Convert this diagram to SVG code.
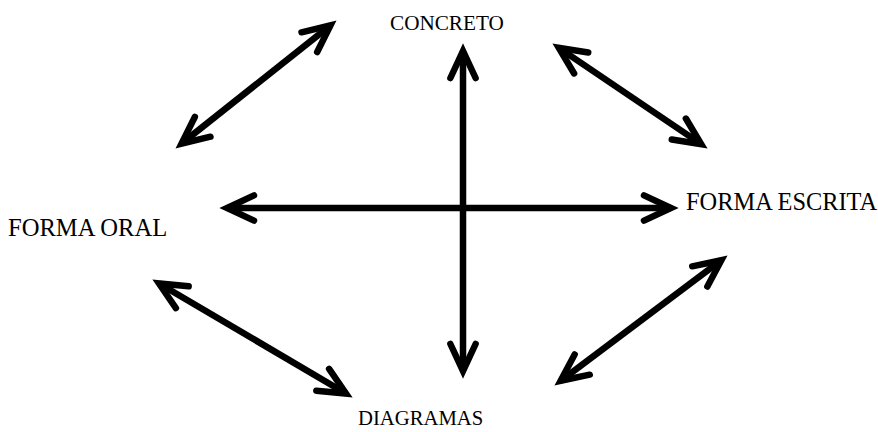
<svg xmlns="http://www.w3.org/2000/svg" width="878" height="432" viewBox="0 0 878 432">
<defs>
<style>
.lbl{font-family:"Liberation Serif","Times New Roman",serif;fill:#000}
.shaft{stroke:#000;stroke-width:6.5;fill:none;marker-start:url(#head);marker-end:url(#head)}
</style>
<marker id="head" markerUnits="userSpaceOnUse" viewBox="-40 -20 50 40" refX="0" refY="0" markerWidth="50" markerHeight="40" orient="auto-start-reverse" overflow="visible">
<path d="M-27,-12.6 L0,0 L-27,12.6" fill="none" stroke="#000" stroke-width="6.5" stroke-linecap="round" stroke-linejoin="miter" stroke-miterlimit="6"/>
</marker>
</defs>
<rect width="878" height="432" fill="#fff"/>
<g id="connectors">
<line class="shaft" x1="181.5" y1="143.6" x2="330.5" y2="25.4"/>
<line class="shaft" x1="463" y1="51" x2="463" y2="371"/>
<line class="shaft" x1="558.8" y1="47.9" x2="701.2" y2="144.1"/>
<line class="shaft" x1="227" y1="208" x2="671" y2="208"/>
<line class="shaft" x1="159" y1="283.5" x2="346" y2="393.5"/>
<line class="shaft" x1="560.6" y1="380.8" x2="721.4" y2="260.2"/>
</g>
<g id="concreto"><text class="lbl" x="390" y="30" font-size="21.2">CONCRETO</text></g>
<g id="forma-oral"><text class="lbl" x="8" y="236" font-size="24.6">FORMA ORAL</text></g>
<g id="forma-escrita"><text class="lbl" x="686" y="210" font-size="24.4">FORMA ESCRITA</text></g>
<g id="diagramas"><text class="lbl" x="358" y="425" font-size="20.7">DIAGRAMAS</text></g>
</svg>
